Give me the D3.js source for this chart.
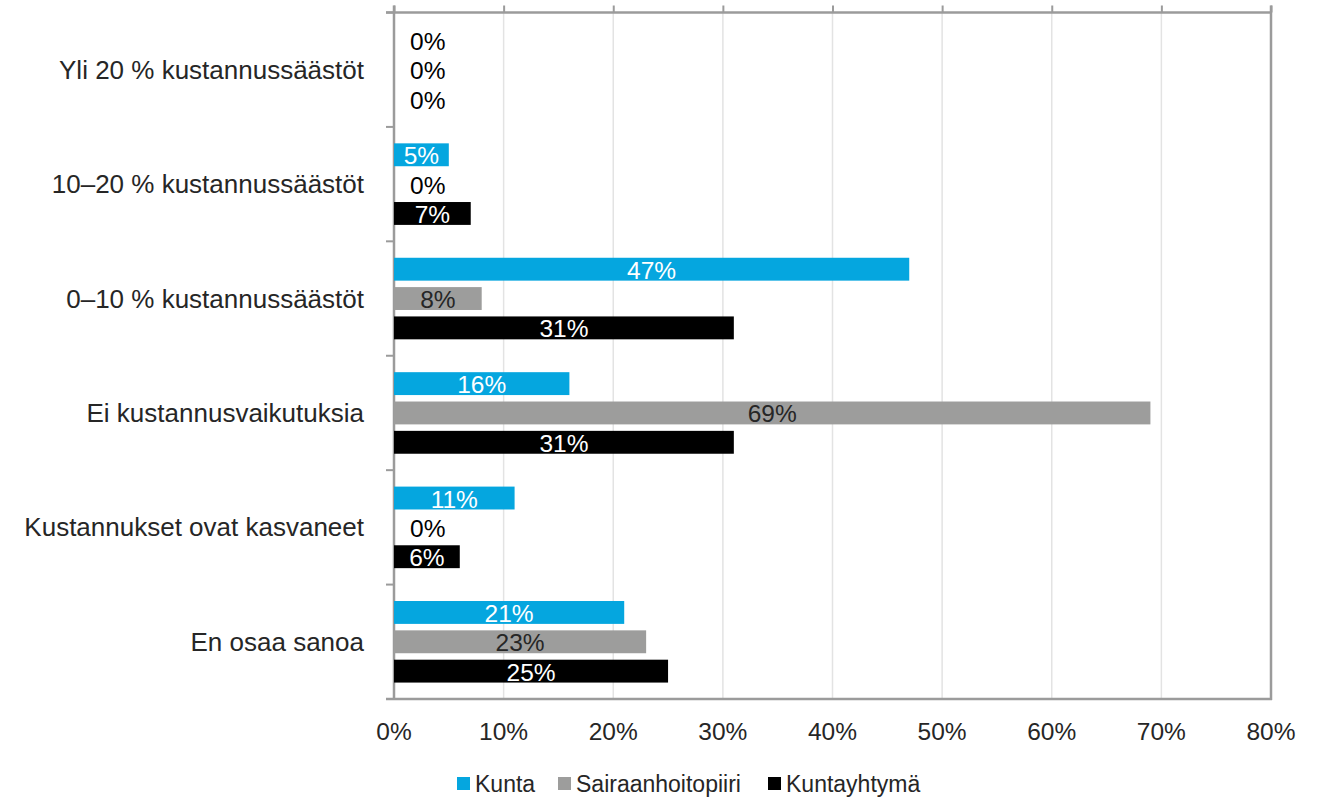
<!DOCTYPE html>
<html>
<head>
<meta charset="utf-8">
<script src="https://cdn.jsdelivr.net/npm/d3@7/dist/d3.min.js"></script>
<style>
  html, body { margin: 0; padding: 0; background: #fff; }
  svg { display: block; font-family: "Liberation Sans", Arial, sans-serif; }
</style>
</head>
<body>
<svg id="chart" width="1331" height="799"></svg>
<script>
// Survey answers: effect on costs, share of respondents (%) by organisation type
const categories = [
  "Yli 20 % kustannussäästöt",
  "10–20 % kustannussäästöt",
  "0–10 % kustannussäästöt",
  "Ei kustannusvaikutuksia",
  "Kustannukset ovat kasvaneet",
  "En osaa sanoa"
];
const seriesNames = ["Kunta", "Sairaanhoitopiiri", "Kuntayhtymä"];
const kunta = [0, 5, 47, 16, 11, 21];
const sairaanhoitopiiri = [0, 0, 8, 69, 0, 23];
const kuntayhtyma = [0, 7, 31, 31, 6, 25];
const xTicks = [0, 10, 20, 30, 40, 50, 60, 70, 80];

const seriesValues = [kunta, sairaanhoitopiiri, kuntayhtyma];
const colors = ["#05A6DF", "#9D9D9C", "#000000"];
const labelColors = ["#ffffff", "#262626", "#ffffff"];

const svg = d3.select("#chart");
const plot = { left: 394, right: 1271, top: 12.5, bottom: 699 };
const axisColor = "#9B9B9B";
const textColor = "#262626";

const x = d3.scaleLinear().domain([0, 80]).range([plot.left, plot.right]);
const y = d3.scaleBand().domain(categories).range([plot.top, plot.bottom]).padding(0);
const ySub = d3.scaleBand().domain(seriesNames)
  .range([0, y.bandwidth()]).paddingInner(0.22).paddingOuter(0.56);

// vertical gridlines
svg.append("g").selectAll("line")
  .data(xTicks.filter(t => t > 0 && t < 80))
  .join("line")
  .attr("x1", d => x(d)).attr("x2", d => x(d))
  .attr("y1", plot.top).attr("y2", plot.bottom)
  .attr("stroke", "#E3E3E3").attr("stroke-width", 1.5);

// top axis: frame line with outward ticks at every gridline
const topAxis = d3.axisTop(x).tickValues(xTicks).tickSize(7).tickFormat("");
const gTop = svg.append("g").attr("transform", `translate(0,${plot.top})`).call(topAxis);
gTop.select(".domain").remove();
gTop.selectAll(".tick line").attr("stroke", axisColor).attr("stroke-width", 2);

// frame: top, right, bottom
svg.append("line").attr("x1", plot.left - 8).attr("x2", plot.right + 1)
  .attr("y1", plot.top).attr("y2", plot.top).attr("stroke", axisColor).attr("stroke-width", 2.5);
svg.append("line").attr("x1", plot.right).attr("x2", plot.right)
  .attr("y1", plot.top - 7).attr("y2", plot.bottom + 1).attr("stroke", axisColor).attr("stroke-width", 2.5);
svg.append("line").attr("x1", plot.left - 8).attr("x2", plot.right + 1)
  .attr("y1", plot.bottom).attr("y2", plot.bottom).attr("stroke", axisColor).attr("stroke-width", 2.5);

// left category axis with boundary ticks
const bounds = categories.map(c => y(c)).concat([plot.bottom]);
svg.append("g").selectAll("line").data(bounds).join("line")
  .attr("x1", plot.left - 8).attr("x2", plot.left)
  .attr("y1", d => d).attr("y2", d => d)
  .attr("stroke", axisColor).attr("stroke-width", 2);
svg.append("line").attr("x1", plot.left).attr("x2", plot.left)
  .attr("y1", plot.top - 7).attr("y2", plot.bottom + 1)
  .attr("stroke", axisColor).attr("stroke-width", 2.5);

// category labels
svg.append("g").selectAll("text").data(categories).join("text")
  .attr("x", plot.left - 30)
  .attr("y", d => y(d) + y.bandwidth() / 2)
  .attr("text-anchor", "end").attr("dominant-baseline", "central")
  .attr("font-size", 26).attr("fill", textColor)
  .text(d => d);

// bottom tick labels
svg.append("g").selectAll("text").data(xTicks).join("text")
  .attr("x", d => x(d)).attr("y", 731)
  .attr("text-anchor", "middle").attr("dominant-baseline", "central")
  .attr("font-size", 24.5).attr("fill", textColor)
  .text(d => d + "%");

// bars and value labels
seriesNames.forEach((name, si) => {
  const vals = seriesValues[si];
  const g = svg.append("g");
  g.selectAll("rect").data(categories).join("rect")
    .attr("x", x(0))
    .attr("y", (c) => y(c) + ySub(name))
    .attr("width", (c, i) => x(vals[i]) - x(0))
    .attr("height", ySub.bandwidth())
    .attr("fill", colors[si]);
  g.selectAll("text").data(categories).join("text")
    .attr("x", (c, i) => vals[i] === 0 ? x(0) + 16 : (x(0) + x(vals[i])) / 2)
    .attr("y", (c) => y(c) + ySub(name) + ySub.bandwidth() / 2 + 1)
    .attr("text-anchor", (c, i) => vals[i] === 0 ? "start" : "middle")
    .attr("dominant-baseline", "central")
    .attr("font-size", 24.5)
    .attr("fill", (c, i) => vals[i] === 0 ? "#000000" : labelColors[si])
    .text((c, i) => vals[i] + "%");
});

// legend
const legendItems = [
  { name: seriesNames[0], color: colors[0], x: 457 },
  { name: seriesNames[1], color: colors[1], x: 558 },
  { name: seriesNames[2], color: colors[2], x: 768 }
];
const lg = svg.append("g");
legendItems.forEach(it => {
  lg.append("rect").attr("x", it.x).attr("y", 777).attr("width", 13).attr("height", 13).attr("fill", it.color);
  lg.append("text").attr("x", it.x + 18).attr("y", 784)
    .attr("dominant-baseline", "central").attr("font-size", 23).attr("fill", textColor)
    .text(it.name);
});
</script>
</body>
</html>
